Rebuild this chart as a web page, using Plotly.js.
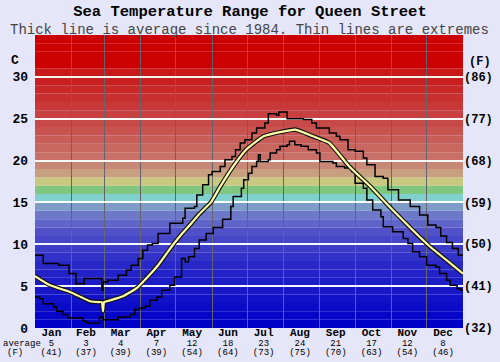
<!DOCTYPE html>
<html><head><meta charset="utf-8">
<script src="https://cdn.plot.ly/plotly-3.0.1.min.js"></script>
<style>html,body{margin:0;padding:0;background:#e6e6fa;}#chart{width:500px;height:362px;}</style>
</head><body><div id="chart"></div>
<script>
// ---- data ----
const months = ["Jan","Feb","Mar","Apr","May","Jun","Jul","Aug","Sep","Oct","Nov","Dec"];
const monthStartDay = [0,31,59,90,120,151,181,212,243,273,304,334];
const monthAvgC = [5,3,4,7,12,18,23,24,21,17,12,8];
const monthAvgF = [41,37,39,39,54,64,73,75,70,63,54,46];
const yTicksC = [0,5,10,15,20,25,30];
const yTicksF = ["(32)","(41)","(50)","(59)","(68)","(77)","(86)"];

const avgDay  = [0,13,30,47,55,57,58,59,64,75,87,98,105,118,125,132,140,150,158,170,180,195,209,222,237,251,268,286,305,322,337,351,365];
const avgTemp = [6.2,5.1,4.3,3.2,3.1,3.1,2.0,3.1,3.3,3.8,4.8,6.4,7.5,10.0,11.2,12.3,13.6,15.0,16.9,19.5,21.3,22.9,23.4,23.7,22.9,22.1,19.3,16.9,14.1,11.7,9.7,8.1,6.5];

const maxDay  = [0,7,20,29,35,42,57,58,62,71,78,82,88,92,96,100,105,115,126,128,136,138,143,148,151,158,162,168,171,175,179,185,189,196,199,206,208,215,229,236,240,251,257,260,267,273,280,283,290,297,301,310,320,328,335,342,346,351,356,361,365];
const maxTemp = [8.7,7.7,7.5,6.5,5.3,5.9,4.5,5.5,5.7,6.3,6.9,7.5,8.3,9.3,9.9,10.1,11.3,12.5,13.1,14.3,14.5,15.9,17.1,18.3,18.7,19.3,20.1,20.5,21.3,22.1,22.5,23.3,23.9,24.5,25.6,25.4,25.8,25.0,24.9,24.5,23.9,23.3,22.9,22.5,21.3,21.1,20.3,19.5,18.1,17.9,16.5,15.3,14.5,13.5,12.3,12.0,11.0,10.2,9.5,8.7,8.7];

const minDay  = [0,4,7,16,18.5,24,28,41,44,55,58,71,81,85,89,94,98,104,108,115,119,125,128,131,136,140,146,152,160,167,169,176,178,182,185,189,190.5,192,199,200.5,206,209,215,217,221.6,227,233,240,243,254,257,264,270,273,280,283,288,295,297,305,314,318,322,328,334,342,345,351,354,360,363,365];
const minTemp = [3.7,3.5,2.9,2.5,2.0,1.6,1.2,0.8,0.6,1.3,1.0,1.3,1.6,2.2,2.4,2.6,3.3,3.7,4.5,5.1,6.1,8.3,7.9,8.5,9.5,10.5,11.3,12.0,13.0,14.5,15.7,16.7,17.7,18.5,19.3,19.9,20.7,19.9,20.1,20.9,21.3,21.7,21.9,22.3,21.9,21.7,21.3,20.9,19.9,19.7,19.3,19.1,18.7,17.3,16.7,15.3,14.1,13.3,12.1,11.5,10.7,10.1,9.1,8.5,7.5,7.3,6.5,5.7,5.1,4.7,4.5,4.5];

// ---- styling ----
const MONO = "Liberation Mono, Courier New, monospace";
const stops = [[0,[0,0,200]],[7,[40,40,200]],[11,[80,80,200]],[13,[110,120,200]],[14,[125,155,200]],[15,[128,208,208]],[16,[128,200,128]],[17,[200,200,128]],[18,[200,160,128]],[19,[200,136,120]],[20,[200,112,104]],[25,[200,64,64]],[30,[200,24,24]],[31,[204,0,0]],[35,[204,0,0]]];
function bandColor(t){
  for(let i=0;i<stops.length-1;i++){
    const [a,ca]=stops[i],[b,cb]=stops[i+1];
    if(t>=a&&t<=b){const f=(t-a)/(b-a);return 'rgb('+ca.map((v,k)=>Math.round(v+(cb[k]-v)*f)).join(',')+')';}
  }
  return 'rgb(204,0,0)';
}
const shapes=[];
for(let t=0;t<35;t++){
  shapes.push({type:'rect',xref:'paper',yref:'y',x0:0,x1:1,y0:t,y1:t+1,fillcolor:bandColor(t),line:{width:0},layer:'below'});
}
const tickPos = monthStartDay.map((d,i)=>{const end=i<11?monthStartDay[i+1]:365;return (d+end)/2-1.5;});
const tickText = months.map((m,i)=>'<span style="font-size:11px"><b>'+m+'</b></span><br><span style="font-size:9px">'+monthAvgC[i]+'</span><br><span style="font-size:9px">('+monthAvgF[i]+')</span>');

// pixel helpers (plot area: x 35..463, y 35..328)
const PX=(p)=>(p-35)/428, PY=(p)=>(328-p)/293;
const annotations=[];
const extra=[
  {text:'average',px:22,py:343.5,size:9},
  {text:'(F)',px:15,py:353,size:9},
  {text:'C',px:15,py:60,size:13,bold:true},
  {text:'(F)',px:480,py:62,size:12,bold:true}
];
extra.forEach(e=>{
  annotations.push({xref:'paper',yref:'paper',x:PX(e.px),y:PY(e.py),showarrow:false,xanchor:'center',yanchor:'middle',
    text:e.bold?'<b>'+e.text+'</b>':e.text,font:{family:MONO,size:e.size,color:'#000'}});
});
annotations.push({xref:'paper',yref:'paper',x:PX(249),y:PY(29.5),showarrow:false,yanchor:'middle',
  text:'Thick line is average since 1984. Thin lines are extremes',font:{family:MONO,size:14,color:'#444'}});

const traces=[
  {x:maxDay,y:maxTemp,mode:'lines',line:{color:'#000',width:1.5,shape:'hv'},hoverinfo:'skip'},
  {x:minDay,y:minTemp,mode:'lines',line:{color:'#000',width:1.5,shape:'hv'},hoverinfo:'skip'},
  {x:avgDay,y:avgTemp,mode:'lines',line:{color:'#111',width:4.5,shape:'spline',smoothing:0.4},hoverinfo:'skip'},
  {x:avgDay,y:avgTemp,mode:'lines',line:{color:'#ffffa8',width:2.2,shape:'spline',smoothing:0.4},hoverinfo:'skip'},
  {x:avgDay,y:avgTemp,yaxis:'y2',mode:'lines',opacity:0,line:{width:0},hoverinfo:'skip'}
];

const layout={
  width:500,height:362,
  margin:{l:35,r:37,t:35,b:34},
  paper_bgcolor:'#e6e6fa',plot_bgcolor:'#e6e6fa',
  showlegend:false,
  title:{text:'<b>Sea Temperature Range for Queen Street</b>',x:0.5,xanchor:'center',y:1-11/362,yanchor:'middle',font:{family:MONO,size:15.5,color:'#000'}},
  xaxis:{range:[0,365],tickmode:'array',tickvals:tickPos,ticktext:tickText,
    tickfont:{family:MONO,size:7.3,color:'#000'},ticks:'',ticklabelstandoff:0,showgrid:false,zeroline:false,showline:false,fixedrange:true,
    minor:{tickmode:'array',tickvals:monthStartDay.slice(1),showgrid:true,gridcolor:'rgb(100,100,110)',gridwidth:1,ticks:''}},
  yaxis:{range:[0,35],tickmode:'array',tickvals:yTicksC,ticktext:yTicksC.map(v=>'<b>'+v+'</b>'),
    tickfont:{family:MONO,size:13,color:'#000'},ticks:'',ticklabelstandoff:6,showgrid:true,gridcolor:'rgba(255,255,255,0.95)',gridwidth:2,zeroline:false,showline:false,fixedrange:true},
  yaxis2:{range:[0,35],overlaying:'y',side:'right',tickmode:'array',tickvals:yTicksC,ticktext:yTicksF.map(v=>'<b>'+v+'</b>'),
    tickfont:{family:MONO,size:12,color:'#000'},ticks:'',showgrid:false,zeroline:false,showline:false,fixedrange:true},
  shapes:shapes,
  annotations:annotations
};
Plotly.newPlot('chart',traces,layout,{staticPlot:true});
</script></body></html>
